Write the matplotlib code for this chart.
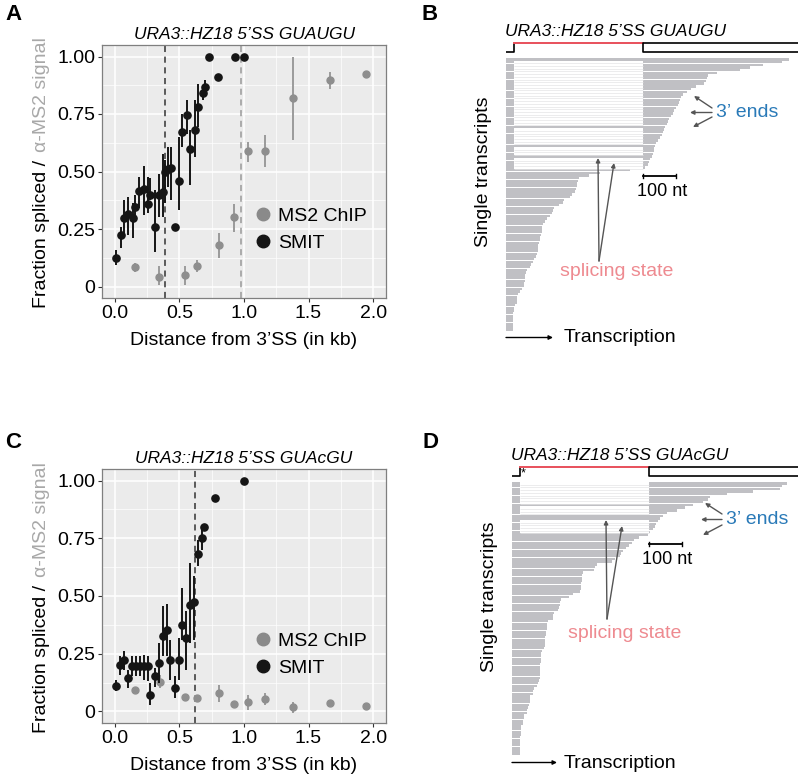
import numpy as np
import matplotlib.pyplot as plt
from matplotlib.lines import Line2D

plt.rcParams['font.family'] = ['Liberation Sans', 'DejaVu Sans']

# ---- Panel A data (distance in kb, fraction) ----
A_smit_x = [0.008, 0.044, 0.070, 0.099, 0.137, 0.158, 0.189, 0.223, 0.254, 0.272, 0.314, 0.340,
            0.371, 0.387, 0.410, 0.436, 0.462, 0.493, 0.521, 0.558, 0.584, 0.617, 0.643, 0.682,
            0.700, 0.729, 0.799, 0.929, 1.001]
A_smit_y = [0.126, 0.225, 0.296, 0.315, 0.296, 0.344, 0.416, 0.426, 0.358, 0.397, 0.257, 0.397,
            0.412, 0.499, 0.513, 0.516, 0.257, 0.458, 0.672, 0.744, 0.600, 0.679, 0.780, 0.842,
            0.867, 1.0, 0.913, 1.0, 1.0]
A_smit_lo = [0.093, 0.166, 0.210, 0.224, 0.210, 0.300, 0.340, 0.310, 0.318, 0.376, 0.152, 0.303,
             0.303, 0.361, 0.434, 0.376, 0.257, 0.332, 0.607, 0.665, 0.440, 0.564, 0.694, 0.810,
             0.845, 1.0, 0.913, 1.0, 1.0]
A_smit_hi = [0.158, 0.260, 0.376, 0.390, 0.361, 0.397, 0.477, 0.525, 0.477, 0.470, 0.419, 0.491,
             0.578, 0.549, 0.607, 0.607, 0.257, 0.650, 0.751, 0.809, 0.680, 0.809, 0.880, 0.874,
             0.896, 1.0, 0.913, 1.0, 1.0]
A_ms2_x = [0.158, 0.345, 0.545, 0.636, 0.807, 0.923, 1.032, 1.162, 1.383, 1.668, 1.946]
A_ms2_y = [0.084, 0.043, 0.051, 0.091, 0.181, 0.301, 0.590, 0.590, 0.819, 0.896, 0.923]
A_ms2_lo = [0.065, 0.007, 0.007, 0.065, 0.123, 0.238, 0.542, 0.520, 0.636, 0.860, 0.923]
A_ms2_hi = [0.101, 0.087, 0.087, 0.116, 0.231, 0.358, 0.629, 0.658, 1.000, 0.932, 0.923]
A_vlines = [0.39, 0.98]

# ---- Panel C data ----
C_smit_x = [0.008, 0.039, 0.073, 0.101, 0.130, 0.163, 0.195, 0.223, 0.254, 0.272, 0.314, 0.340,
            0.371, 0.402, 0.428, 0.462, 0.493, 0.519, 0.553, 0.584, 0.612, 0.643, 0.677, 0.690,
            0.773, 1.001]
C_smit_y = [0.112, 0.202, 0.221, 0.143, 0.198, 0.195, 0.195, 0.198, 0.195, 0.072, 0.152, 0.212,
            0.328, 0.351, 0.221, 0.101, 0.224, 0.376, 0.318, 0.462, 0.473, 0.682, 0.751, 0.798,
            0.925, 1.0]
C_smit_lo = [0.087, 0.159, 0.181, 0.101, 0.152, 0.152, 0.152, 0.137, 0.130, 0.029, 0.108, 0.123,
             0.238, 0.238, 0.137, 0.058, 0.137, 0.311, 0.181, 0.296, 0.311, 0.628, 0.701, 0.798,
             0.925, 1.0]
C_smit_hi = [0.137, 0.238, 0.260, 0.181, 0.238, 0.238, 0.238, 0.246, 0.238, 0.123, 0.188, 0.296,
             0.455, 0.466, 0.311, 0.152, 0.318, 0.535, 0.434, 0.643, 0.585, 0.744, 0.801, 0.798,
             0.925, 1.0]
C_ms2_x = [0.158, 0.350, 0.545, 0.636, 0.807, 0.923, 1.032, 1.162, 1.383, 1.668, 1.946]
C_ms2_y = [0.094, 0.127, 0.062, 0.058, 0.080, 0.033, 0.040, 0.055, 0.019, 0.036, 0.025]
C_ms2_lo = [0.094, 0.100, 0.062, 0.058, 0.043, 0.033, 0.007, 0.029, -0.007, 0.036, 0.025]
C_ms2_hi = [0.094, 0.159, 0.062, 0.058, 0.116, 0.033, 0.072, 0.079, 0.043, 0.036, 0.025]
C_vlines = [0.617]

# ---- Panel B single transcripts (3' end position in nt, spliced flag) ----
B_ends = [858, 835, 779, 739, 709, 640, 612, 610, 606, 600, 575, 560, 548, 535, 530, 527, 525,
          520, 515, 510, 505, 500, 495, 491, 487, 482, 479, 475, 472, 468, 460, 456, 452, 449,
          447, 445, 441, 436, 433, 430, 421,
          376, 285, 250, 220, 218, 216, 215, 212, 210, 200, 194, 175, 172, 160, 145, 142, 139,
          133, 125, 118, 112, 110, 109, 108, 106, 104, 102, 100, 98, 97, 96, 94, 90, 85, 82, 76,
          73, 65, 60, 58, 58, 57, 56, 55, 48, 42, 36, 34, 33, 32, 26, 24, 24, 22, 21, 21, 21, 20,
          20, 20]
B_spliced = [0, 1, 1, 1, 1, 1, 1, 1, 1, 1, 1, 1, 1, 1, 1, 1, 1, 1, 1, 1, 1, 1, 1, 1, 1, 0, 1,
             1, 1, 1, 1, 1, 0, 1, 1, 1, 0, 1, 1, 1, 1] + [0] * 60
B_exon1_end = 24
B_intron_end = 415

# ---- Panel D ----
D_ends = [851, 835, 829, 746, 665, 613, 607, 591, 560, 535, 510, 479, 467, 458, 452, 447, 442,
          437, 427,
          420, 392, 378, 372, 362, 352, 345, 338, 334, 320, 310, 264, 258, 255, 221, 217, 216,
          216, 215, 215, 214, 212, 190, 178, 152, 149, 148, 145, 143, 130, 128, 126, 110, 108,
          108, 107, 106, 106, 103, 102, 102, 101, 100, 92, 90, 90, 89, 89, 88, 88, 87, 87, 87,
          86, 85, 82, 77, 68, 66, 64, 57, 56, 55, 54, 48, 46, 45, 38, 36, 35, 33, 28, 27, 27,
          27, 26, 26, 26, 25, 25, 25, 25]
D_spliced = [1, 1, 1, 1, 1, 1, 1, 1, 0, 1, 1, 1, 0, 0, 1, 1, 1, 1, 1] + [0] * 82
D_exon1_end = 25
D_intron_end = 424

W, H = 800, 780
fig = plt.figure(figsize=(8, 7.8), dpi=100)

GRAYPT = '#8E8E8E'
BLACKPT = '#151515'


def px_axes(l, t, r, b):
    return fig.add_axes([l / W, 1 - b / H, (r - l) / W, (b - t) / H])


def scatter_panel(ax, sx, sy, slo, shi, mx, my, mlo, mhi, vlines, vcols, title):
    ax.set_facecolor('#EBEBEB')
    ax.set_xlim(-0.1, 2.1)
    ax.set_ylim(-0.05, 1.05)
    ax.set_xticks([0, 0.5, 1.0, 1.5, 2.0])
    ax.set_xticklabels(['0.0', '0.5', '1.0', '1.5', '2.0'])
    ax.set_yticks([0, 0.25, 0.5, 0.75, 1.0])
    ax.set_yticklabels(['0', '0.25', '0.50', '0.75', '1.00'])
    ax.set_xticks([0.25, 0.75, 1.25, 1.75], minor=True)
    ax.set_yticks([0.125, 0.375, 0.625, 0.875], minor=True)
    ax.grid(True, which='major', color='white', lw=1.1)
    ax.grid(True, which='minor', color='white', lw=0.5)
    ax.set_axisbelow(True)
    ax.tick_params(which='major', length=3, color='#333333', labelsize=14, pad=2)
    ax.tick_params(which='minor', length=0)
    for s in ax.spines.values():
        s.set_color('#7F7F7F')
        s.set_linewidth(0.9)
    for v, c in zip(vlines, vcols):
        ax.axvline(v, color=c, ls=(0, (4, 3)), lw=1.1, zorder=1.5)
    mx, my = np.array(mx), np.array(my)
    ax.errorbar(mx, my, yerr=[my - np.array(mlo), np.array(mhi) - my], fmt='o',
                color=GRAYPT, ecolor='#9A9A9A', ms=5, elinewidth=1.4, capsize=0, zorder=3)
    sx, sy = np.array(sx), np.array(sy)
    ax.errorbar(sx, sy, yerr=[sy - np.array(slo), np.array(shi) - sy], fmt='o',
                color=BLACKPT, ecolor=BLACKPT, ms=5.2, elinewidth=1.4, capsize=0, zorder=4)
    ax.set_xlabel("Distance from 3\u2019SS (in kb)", fontsize=14, labelpad=7)
    ax.set_title(title, fontsize=12.5, style='italic', pad=4)
    handles = [Line2D([], [], ls='', marker='o', ms=9, color='#8A8A8A'),
               Line2D([], [], ls='', marker='o', ms=9, color=BLACKPT)]
    ax.legend(handles, ['MS2 ChIP', 'SMIT'], loc='center left', bbox_to_anchor=(0.49, 0.27),
              frameon=False, fontsize=14, handletextpad=0.2, labelspacing=0.5,
              handlelength=1.2, borderpad=0)


axA = px_axes(102, 45, 386, 298)
scatter_panel(axA, A_smit_x, A_smit_y, A_smit_lo, A_smit_hi, A_ms2_x, A_ms2_y, A_ms2_lo,
              A_ms2_hi, A_vlines, ['#333333', '#9A9A9A'], 'URA3::HZ18 5\u2019SS GUAUGU')
axC = px_axes(102, 469, 386, 723)
scatter_panel(axC, C_smit_x, C_smit_y, C_smit_lo, C_smit_hi, C_ms2_x, C_ms2_y, C_ms2_lo,
              C_ms2_hi, C_vlines, ['#333333'], 'URA3::HZ18 5\u2019SS GUAcGU')


def transcripts_panel(ax, ends, spliced, ex1, intr, title, star):
    ends = np.array(ends, dtype=float)
    spl = np.array(spliced, dtype=bool)
    rows = np.arange(len(ends)) + 0.5
    gray = '#C0C0C4'
    ax.barh(rows[~spl], ends[~spl], height=0.86, color=gray, lw=0)
    ax.barh(rows[spl], np.full(spl.sum(), ex1), height=0.86, color=gray, lw=0)
    ax.barh(rows[spl], ends[spl] - intr, left=intr, height=0.86, color=gray, lw=0)
    ax.hlines(rows[spl] + 0.5, ex1, intr, color='#E4E4E6', lw=0.5)
    ax.set_xlim(0, 880)
    ax.axis('off')
    # gene structure
    top, bot = -5.56, -2.4
    k = dict(color='black', lw=1.2, solid_capstyle='butt', clip_on=False)
    ax.plot([0, ex1, ex1], [bot, bot, top], **k)
    ax.plot([ex1, intr], [top, top], color='#E8505B', lw=1.4, clip_on=False)
    ax.plot([885, intr, intr, 885], [top, top, bot, bot], **k)
    ax.text(ex1 - 27, top - 1.4, title, style='italic', fontsize=12.5, va='bottom', ha='left')
    if star:
        ax.text(ex1 + 3, -3.2, '*', fontsize=9, ha='left', va='center')
    return ax


# Panel B
axB = px_axes(506, 20, 506 + 880 * 0.33, 350)
axB.set_ylim((350 - 58) / 2.7, (20 - 58) / 2.7)
transcripts_panel(axB, B_ends, B_spliced, B_exon1_end, B_intron_end,
                  'URA3::HZ18 5\u2019SS GUAUGU', False)

# Panel D
axD = px_axes(512, 447, 512 + 880 * 0.323, 777)
axD.set_ylim((777 - 482) / 2.7, (447 - 482) / 2.7)
transcripts_panel(axD, D_ends, D_spliced, D_exon1_end, D_intron_end,
                  'URA3::HZ18 5\u2019SS GUAcGU', True)

BLUE = '#2A7AB8'
PINK = '#EE8A90'
ARR = dict(arrowstyle='-|>', color='#555555', lw=1.0, mutation_scale=6, shrinkA=0, shrinkB=0)


def annotate_panel(ax, pxn, row, ends_txt, ends_tails, ends_heads, bar, bar_txt, sp_txt,
                   sp_tail, sp_heads, single, trans_txt, trans_arrow):
    def d(p):
        return (pxn(p[0]), row(p[1]))
    ax.text(*d(ends_txt), '3\u2019 ends', color=BLUE, fontsize=14, ha='left', va='center')
    for t, h in zip(ends_tails, ends_heads):
        ax.annotate('', xy=d(h), xytext=d(t), arrowprops=ARR, annotation_clip=False)
    x0, x1 = pxn(bar[0]), pxn(bar[1])
    y = row(bar[2])
    ax.plot([x0, x1], [y, y], color='black', lw=1.3, clip_on=False)
    ax.plot([x0, x0], [y - 0.8, y + 0.8], color='black', lw=1.0, clip_on=False)
    ax.plot([x1, x1], [y - 0.8, y + 0.8], color='black', lw=1.0, clip_on=False)
    ax.text(*d(bar_txt), '100 nt', fontsize=13, ha='center', va='center')
    ax.text(*d(sp_txt), 'splicing state', color=PINK, fontsize=14, ha='center', va='center')
    for h in sp_heads:
        ax.annotate('', xy=d(h), xytext=d(sp_tail), arrowprops=ARR, annotation_clip=False)
    ax.text(*d(single), 'Single transcripts', fontsize=14, rotation=90, ha='center',
            va='center')
    ax.text(*d(trans_txt), 'Transcription', fontsize=14, ha='left', va='center')
    ax.annotate('', xy=d((trans_arrow[1], trans_arrow[2])),
                xytext=d((trans_arrow[0], trans_arrow[2])),
                arrowprops=dict(arrowstyle='-|>', color='black', lw=1.0, mutation_scale=6,
                                shrinkA=0, shrinkB=0), annotation_clip=False)


annotate_panel(axB, lambda p: (p - 506) / 0.33, lambda p: (p - 58) / 2.7,
               (716, 113), [(712, 108), (712, 112.5), (712, 117)],
               [(694, 96), (690, 112.5), (693, 127)],
               (643, 676, 176), (662, 192), (617, 272), (599, 261), [(598, 158), (614, 163)],
               (484, 172), (564, 338), (506, 553, 337.5))
annotate_panel(axD, lambda p: (p - 512) / 0.323, lambda p: (p - 482) / 2.7,
               (726, 520), [(722, 514), (722, 519.5), (722, 525)],
               [(705, 503), (701, 519.5), (703, 535)],
               (649, 682, 544), (667, 559), (625, 633), (607, 619), [(606, 520), (622, 526)],
               (489, 597), (564, 763), (512, 557, 762.5))

# panel letters
for lab, x, y in [('A', 13, 15), ('B', 430, 15), ('C', 13, 442), ('D', 430, 442)]:
    fig.text(x / W, 1 - y / H, lab, fontsize=16, fontweight='bold', ha='center', va='center')

# two-colour y labels
fig.canvas.draw()
renderer = fig.canvas.get_renderer()
for xc, ybot in [(42, 308), (42, 733)]:
    t1 = fig.text(xc / W, 1 - ybot / H, 'Fraction spliced / ', fontsize=14, rotation=90,
                  ha='center', va='bottom', color='black')
    bb = t1.get_window_extent(renderer)
    fig.text(xc / W, (bb.y1 + 3) / H, '\u03b1-MS2 signal', fontsize=14, rotation=90,
             ha='center', va='bottom', color='#A8A8A8')

fig.savefig('out.png', dpi=100)
